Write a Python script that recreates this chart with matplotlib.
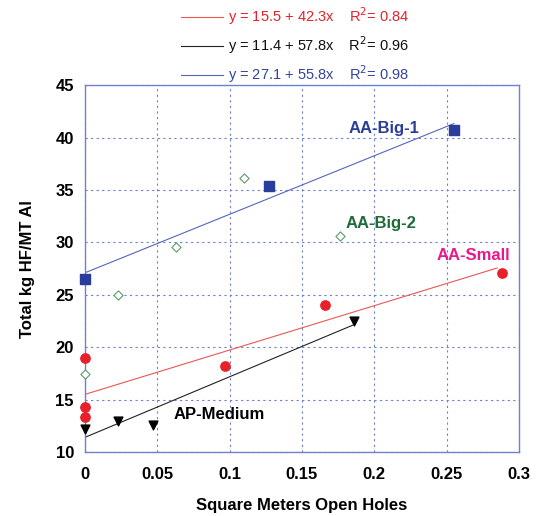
import numpy as np
import matplotlib
matplotlib.use("Agg")
import matplotlib.pyplot as plt

plt.rcParams['font.family'] = ['Liberation Sans', 'DejaVu Sans']

# data
small_x = [0, 0, 0, 0.097, 0.166, 0.288]
small_y = [19.0, 14.3, 13.3, 18.2, 24.0, 27.1]

medium_x = [0, 0.023, 0.047, 0.186]
medium_y = [12.2, 13.0, 12.6, 22.5]

big1_x = [0, 0.127, 0.255]
big1_y = [26.5, 35.4, 40.7]

big2_x = [0, 0, 0.023, 0.063, 0.110, 0.176]
big2_y = [17.4, 14.3, 25.0, 29.6, 36.1, 30.6]

# regression lines (intercept, slope, r2) as printed on the chart
fit_a = [15.5, 11.4, 27.1]
fit_b = [42.3, 57.8, 55.8]
fit_r2 = [0.84, 0.96, 0.98]
fit_colors = ["#ee5555", "#222222", "#5566bb"]
fit_text_colors = ["#e8202a", "#111111", "#3344a0"]
fit_xmax = [0.285, 0.186, 0.255]

blue = "#2b3d9b"
axis_col = "#7080cc"

fig = plt.figure(figsize=(5.39, 5.16), dpi=100)
ax = fig.add_axes([0.1577, 0.124, 0.805, 0.711])

handles = []
for a, b, r2, c, xm in zip(fit_a, fit_b, fit_r2, fit_colors, fit_xmax):
    xs = np.array([0, xm])
    h, = ax.plot(xs, a + b * xs, color=c, lw=0.8, zorder=2)
    handles.append(h)

ax.scatter(big2_x, big2_y, marker="D", s=22, facecolors="white",
           edgecolors="#5a9a6a", linewidths=0.8, zorder=3, clip_on=False)
ax.scatter(small_x, small_y, marker="o", s=45, color="#e8202a", zorder=4, clip_on=False)
ax.scatter(medium_x, medium_y, marker="v", s=40, color="black", zorder=4, clip_on=False)
ax.scatter(big1_x, big1_y, marker="s", s=45, color=blue, zorder=4, clip_on=False)

ax.text(0.182, 40.4, "AA-Big-1", color=blue, fontsize=12, fontweight="bold")
ax.text(0.180, 31.35, "AA-Big-2", color="#1e6b3a", fontsize=12, fontweight="bold")
ax.text(0.243, 28.3, "AA-Small", color="#e8198b", fontsize=12, fontweight="bold")
ax.text(0.0615, 13.15, "AP-Medium", color="black", fontsize=12, fontweight="bold")

ax.set_xlim(0, 0.3)
ax.set_ylim(10, 45)
ax.set_xticks([0, 0.05, 0.1, 0.15, 0.2, 0.25, 0.3])
ax.set_xticklabels(["0", "0.05", "0.1", "0.15", "0.2", "0.25", "0.3"])
ax.set_yticks(range(10, 46, 5))
ax.tick_params(axis="x", length=0, pad=11, labelsize=12)
ax.tick_params(axis="y", length=0, pad=8, labelsize=12)
for lab in ax.get_xticklabels() + ax.get_yticklabels():
    lab.set_fontweight("bold")
ax.grid(True, color=axis_col, linestyle=(0, (2, 3)), lw=0.8)
for s in ax.spines.values():
    s.set_color(axis_col)
    s.set_linewidth(1.0)

ax.set_xlabel("Square Meters Open Holes", fontsize=12, fontweight="bold", labelpad=11)
ax.set_ylabel("Total kg HF/MT Al", fontsize=12, fontweight="bold", labelpad=15)

labels = ["y = %.1f + %.1fx    R$^2$= %.2f" % (a, b, r2)
          for a, b, r2 in zip(fit_a, fit_b, fit_r2)]
leg = fig.legend(handles, labels, loc="upper center", bbox_to_anchor=(0.548, 1.015),
                 frameon=False, fontsize=10.5, handlelength=2.9, labelspacing=0.5,
                 handletextpad=0.35)
for t, c in zip(leg.get_texts(), fit_text_colors):
    t.set_color(c)

fig.savefig("out.png", dpi=100)
